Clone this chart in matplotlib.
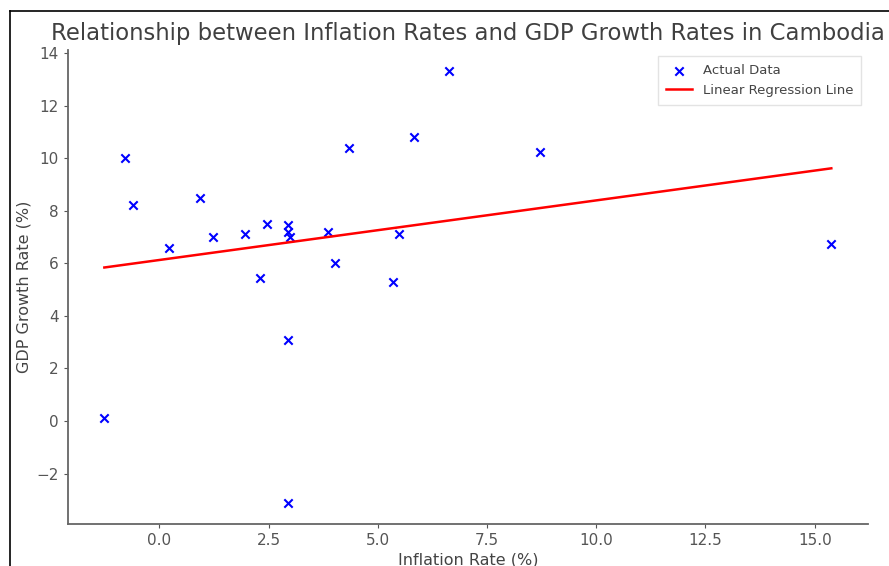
import numpy as np
import matplotlib
matplotlib.use('Agg')
import matplotlib.pyplot as plt
from matplotlib.lines import Line2D
from matplotlib.ticker import MultipleLocator

# === DATA ===
inflation = [-1.26, -0.78, -0.60, 0.21, 0.94, 1.22, 1.95, 2.31, 2.47, 2.94, 2.94,
             3.00, 2.94, 2.94, 3.86, 4.01, 4.34, 5.34, 5.49, 5.83, 6.63, 8.72, 15.38]
gdp_growth = [0.12, 10.0, 8.2, 6.6, 8.5, 7.0, 7.1, 5.45, 7.5, 7.45, 7.2,
              7.0, 3.1, -3.1, 7.2, 6.0, 10.4, 5.3, 7.1, 10.8, 13.3, 10.25, 6.75]

x = np.array(inflation)
y = np.array(gdp_growth)

# === LINEAR FIT ===
slope, intercept = np.polyfit(x, y, 1)
x_line = np.array([x.min(), x.max()])
y_line = slope * x_line + intercept

# === CHART ===
fig = plt.figure(figsize=(8.89, 5.66), dpi=100)
ax = fig.add_axes([0.0765, 0.074, 0.8995, 0.838])

ax.scatter(x, y, marker='x', color='blue', s=36, linewidths=1.5, label='Actual Data')
ax.plot(x_line, y_line, color='red', linewidth=1.8, label='Linear Regression Line')

ax.set_title('Relationship between Inflation Rates and GDP Growth Rates in Cambodia',
             fontsize=16.4, color='#404040', pad=7)
ax.set_xlabel('Inflation Rate (%)', fontsize=11.5, color='#444444', labelpad=3)
ax.set_ylabel('GDP Growth Rate (%)', fontsize=11.5, color='#444444')

ax.yaxis.set_major_locator(MultipleLocator(2))

for side in ['top', 'right']:
    ax.spines[side].set_visible(False)
for side in ['left', 'bottom']:
    ax.spines[side].set_color('#666666')
    ax.spines[side].set_linewidth(1.3)
ax.tick_params(colors='#555555', labelsize=11, length=3)

ax.legend(loc='upper right', fontsize=9.5, labelcolor='#444444',
          edgecolor='#dddddd', fancybox=False, borderpad=0.6)

# screenshot frame
fig.add_artist(Line2D([9.5 / 889, 9.5 / 889], [0, 1 - 11 / 566], color='black', lw=1.2,
                      transform=fig.transFigure))
fig.add_artist(Line2D([9.5 / 889, 1], [1 - 11 / 566, 1 - 11 / 566], color='black', lw=1.2,
                      transform=fig.transFigure))

fig.savefig('out.png', dpi=100)
